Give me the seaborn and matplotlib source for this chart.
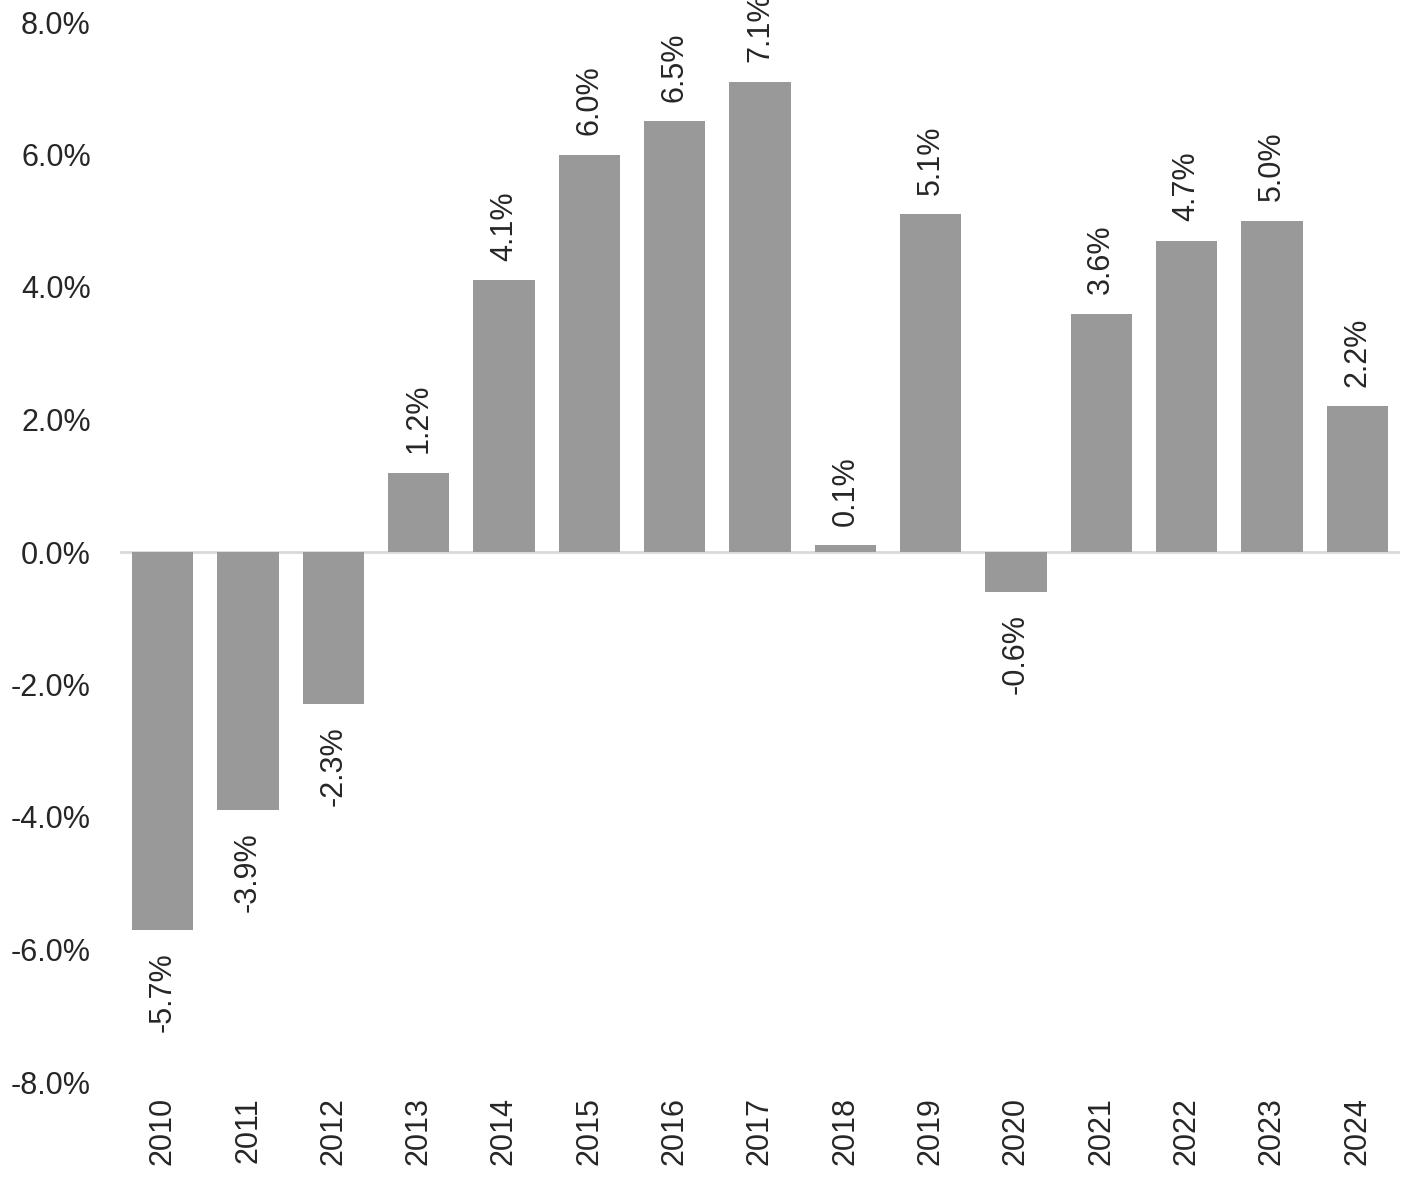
import pandas as pd
import matplotlib
matplotlib.use("Agg")
import matplotlib.pyplot as plt
import seaborn as sns
from matplotlib.ticker import FuncFormatter

# chart values
years = ["2010", "2011", "2012", "2013", "2014", "2015", "2016", "2017",
         "2018", "2019", "2020", "2021", "2022", "2023", "2024"]
growth = [-5.7, -3.9, -2.3, 1.2, 4.1, 6.0, 6.5, 7.1, 0.1, 5.1, -0.6, 3.6, 4.7, 5.0, 2.2]

df = pd.DataFrame({"year": years, "growth": growth})

sns.set_style("white")
plt.rcParams["font.family"] = ["Liberation Sans", "DejaVu Sans"]

fig = plt.figure(figsize=(14.05, 11.78), dpi=100)
ax = fig.add_axes([120 / 1405, 1 - 1082 / 1178, 1280 / 1405, 1060 / 1178])

sns.barplot(data=df, x="year", y="growth", color="#999999", saturation=1,
            width=0.72, linewidth=0, ax=ax)

ax.set_ylim(-8, 8)
ax.set_xlim(-0.5, len(years) - 0.5)
ax.set_yticks([-8, -6, -4, -2, 0, 2, 4, 6, 8])
ax.yaxis.set_major_formatter(FuncFormatter(lambda v, p: f"{v:.1f}%"))
ax.axhline(0, color="#d9d9d9", lw=2, zorder=0)

for s in ax.spines.values():
    s.set_visible(False)
ax.tick_params(axis="y", length=0, pad=21, labelsize=22)
ax.tick_params(axis="x", length=0, pad=11, labelsize=22, rotation=90)
ax.set_xlabel("")
ax.set_ylabel("")

# data labels
for i, v in enumerate(growth):
    off = 14 if v >= 0 else -16
    ax.annotate(f"{v:.1f}%", (i, v), xytext=(0, off), textcoords="offset points",
                rotation=90, ha="center", va="bottom" if v >= 0 else "top",
                fontsize=22, annotation_clip=False)

fig.savefig("out.png", dpi=100)
